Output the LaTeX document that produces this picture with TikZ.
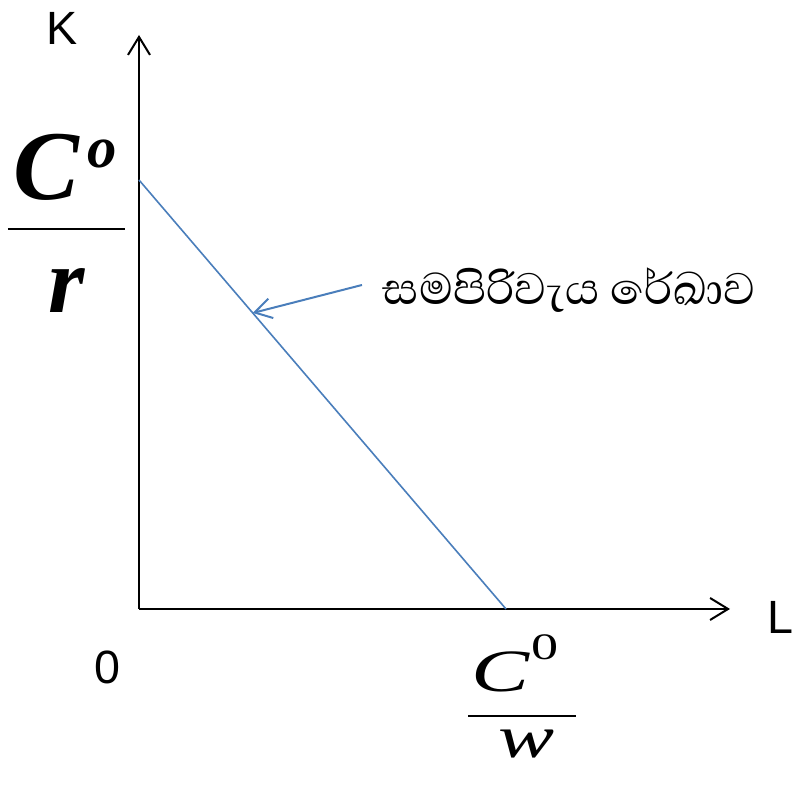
\documentclass[tikz,border=0pt]{standalone}
\usepackage{fontspec}
\setmainfont{Liberation Sans}
\newfontfamily\timesfont{Liberation Serif}
\newfontfamily\sinhalafont[Script=Sinhala]{Abhaya Libre}
\usetikzlibrary{arrows.meta}
\usetikzlibrary{calc}
\definecolor{isoblue}{RGB}{74,126,187}

\begin{document}
\begin{tikzpicture}[x=0.75pt,y=0.75pt,
  >={Straight Barb[length=13.5pt,width=16.5pt]},
  axislabel/.style={font=\fontsize{35}{40}\selectfont, inner sep=0pt},
  fraclabel/.style={inner sep=0pt},
  isolabel/.style={font=\sinhalafont\fontsize{42.5}{46}\selectfont, inner sep=0pt}]

\useasboundingbox (-139,-182) rectangle (655,609);

%---------------------------------------
% Axes
%---------------------------------------
\coordinate (O) at (0,0);
\coordinate (Ktop) at (0,574);
\coordinate (Lend) at (591,0);
\draw[->, line width=1.5pt] (O) -- (Ktop);
\draw[->, line width=1.5pt] (O) -- (Lend);

\node[axislabel] (K) at (-77,581) {K};
\node[axislabel] (L) at (641,-8) {L};
\node[axislabel] (zero) at (-32,-58) {0};

%---------------------------------------
% Iso-cost line
%---------------------------------------
\coordinate (isoK) at (0,429);
\coordinate (isoL) at (367,0);
\draw[isoblue, line width=1.2pt] (isoK) -- (isoL);

% Label and pointer
\node[isolabel] (isolbl) at (430,319) {සමපිරිවැය රේඛාව};
\coordinate (arrowstart) at (223,324);
\draw[->, isoblue, line width=1.5pt, >={Straight Barb[length=12.5pt,width=15pt]}]
      (arrowstart) -- ($(isoK)!0.31!(isoL)$);

%---------------------------------------
% Intercepts C/r and C/w
%---------------------------------------
\node[fraclabel, anchor=base west] (Cr) at (-126,409)
      {\fontsize{74}{74}\timesfont\bfseries\itshape C\hspace{6pt}\raisebox{24pt}{\fontsize{44}{44}\selectfont o}};
\draw[line width=1.5pt] (-131,380) -- (-14,380);
\node[fraclabel, anchor=base] (r) at (-72,296)
      {\fontsize{70}{70}\timesfont\bfseries\itshape r};

\node[fraclabel, anchor=base west] (Cw) at (332,-83)
      {\scalebox{1.45}[1]{\fontsize{45}{45}\timesfont\itshape C\hspace{1pt}\raisebox{24pt}{\upshape\fontsize{28}{28}\selectfont 0}}};
\draw[line width=1.5pt] (329,-107) -- (437,-107);
\node[fraclabel, anchor=base] (w) at (388,-149)
      {\scalebox{1.4}[1]{\fontsize{45}{45}\timesfont\itshape w}};

\end{tikzpicture}
\end{document}
